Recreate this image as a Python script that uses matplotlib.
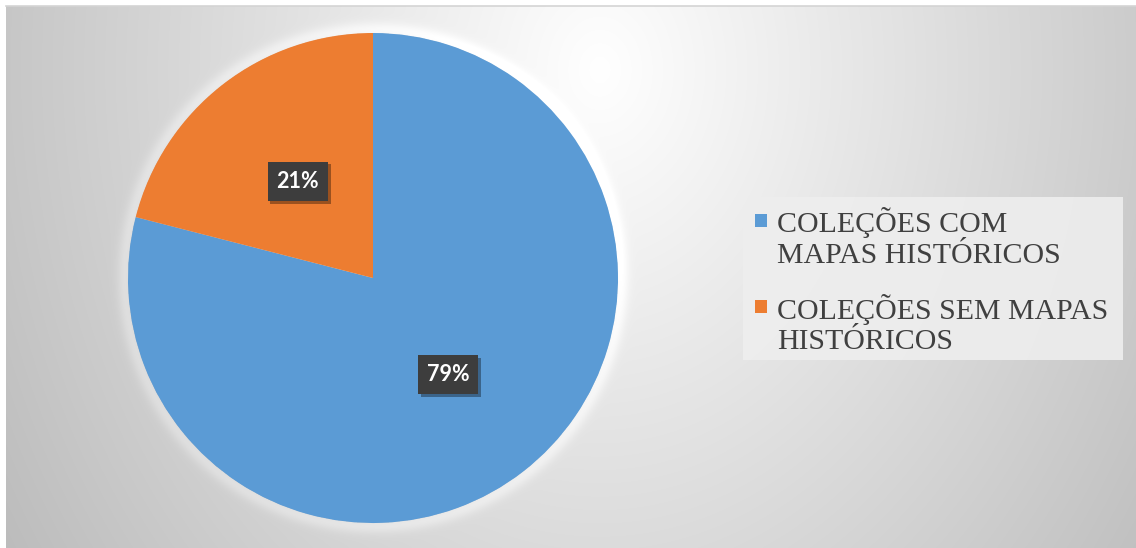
import numpy as np
import matplotlib
matplotlib.use("Agg")
import matplotlib.pyplot as plt
from matplotlib.patches import Rectangle
import matplotlib.patheffects as pe

# Data
categories = ["COLEÇÕES COM\nMAPAS HISTÓRICOS", "COLEÇÕES SEM MAPAS\nHISTÓRICOS"]
shares = [79, 21]
colors = ["#5B9BD5", "#ED7D31"]

W, H = 1136, 548
fig = plt.figure(figsize=(W / 100, H / 100), dpi=100)
fig.patch.set_facecolor("white")


def px_rect(x0, y0, x1, y1):
    """Figure-fraction rect from pixel corners (origin top-left)."""
    return [x0 / W, 1 - y1 / H, (x1 - x0) / W, (y1 - y0) / H]


# Chart area with a soft radial gray gradient
PX0, PY0 = 6, 6
bg = fig.add_axes(px_rect(PX0, PY0, W, H))
yy, xx = np.mgrid[PY0:H, PX0:W] + 0.5
val = 255 - np.hypot(0.095 * (xx - 600), 0.075 * (yy - 70))
cx, cy, R = 373, 278, 245
rr = np.hypot(xx - cx, yy - cy)
val += 16 * np.exp(-((rr - R - 3) / 8) ** 2) * (rr > R)
val = np.clip(val, 0, 255) / 255
bg.imshow(np.dstack([val] * 3), aspect="auto", interpolation="bilinear")
bg.set_xticks([])
bg.set_yticks([])
for s in bg.spines.values():
    s.set_visible(False)
bg.spines["top"].set_visible(True)
bg.spines["top"].set_color("#d4d4d4")
bg.spines["top"].set_linewidth(1.2)

# Pie
ax = fig.add_axes(px_rect(cx - R, cy - R, cx + R, cy + R))
ax.set_facecolor("none")
wedges, texts, autotexts = ax.pie(
    shares,
    colors=colors,
    startangle=90,
    counterclock=False,
    autopct=lambda p: f"{p:.0f}%",
    pctdistance=0.5,
    radius=1.0,
    wedgeprops=dict(linewidth=0),
    textprops=dict(color="white", fontsize=15.5, fontweight="bold", family="Lato"),
)
ax.set_xlim(-1, 1)
ax.set_ylim(-1, 1)
ax.set_aspect("equal")
ax.axis("off")

for t in autotexts:
    t.set_bbox(dict(boxstyle="square,pad=0.42", fc="#3d3d3d", ec="none"))
    t.get_bbox_patch().set_path_effects(
        [pe.SimplePatchShadow(offset=(2, -2), shadow_rgbFace="black", alpha=0.35), pe.Normal()]
    )

# Legend panel
fig.patches.append(
    Rectangle((743 / W, 1 - 360 / H), (1123 - 743) / W, (360 - 197) / H,
              transform=fig.transFigure, fc="#eeeeee", ec="none", alpha=0.9, zorder=2)
)
entry_tops = [214, 300]
entry_baselines = [[232, 263], [319, 349]]
for col, label, top, bases in zip(colors, categories, entry_tops, entry_baselines):
    fig.patches.append(
        Rectangle((755 / W, 1 - (top + 13) / H), 12 / W, 13 / H,
                  transform=fig.transFigure, fc=col, ec="none", zorder=3)
    )
    for line, base in zip(label.split("\n"), bases):
        fig.text(777 / W, 1 - base / H, line, family="Liberation Serif", fontsize=21.5,
                 color="#404040", ha="left", va="baseline", zorder=4)

fig.savefig("out.png", dpi=100, facecolor=fig.get_facecolor())
